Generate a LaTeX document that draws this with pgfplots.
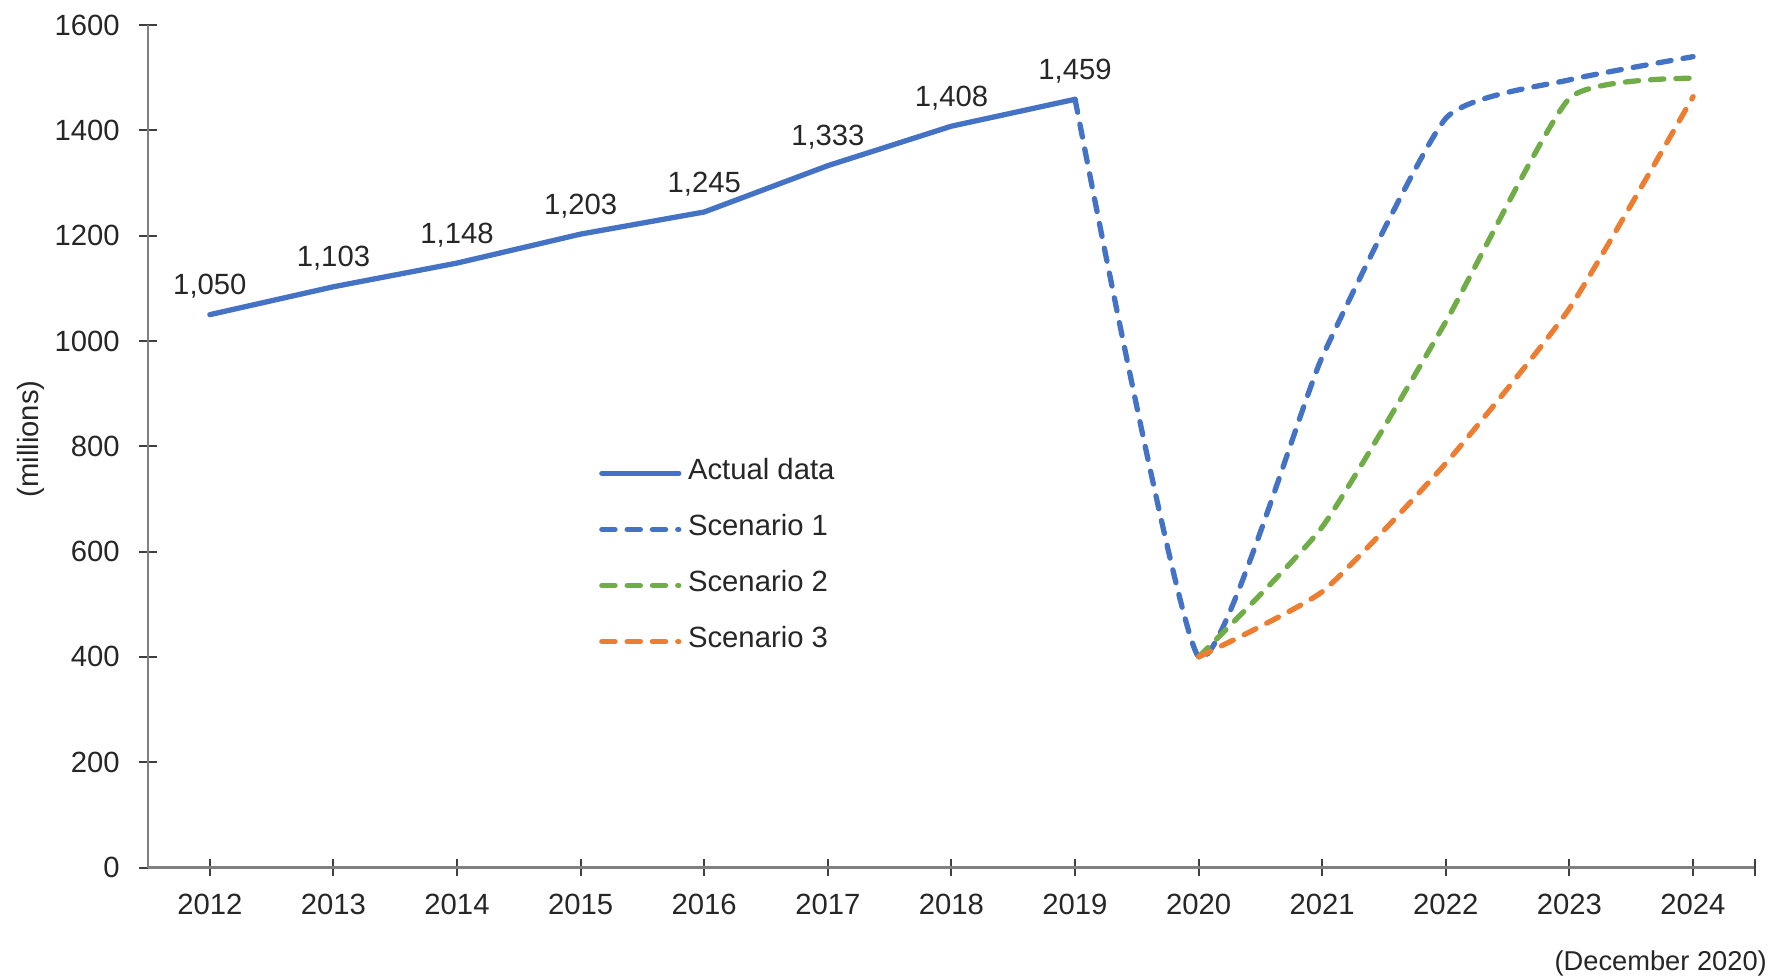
\documentclass[border=0pt]{standalone}
\usepackage{fontspec}
\setmainfont{Liberation Sans}
\usepackage{pgfplots}
\pgfplotsset{compat=1.18}
\definecolor{sBlue}{HTML}{4472C4}
\definecolor{sGreen}{HTML}{70AD47}
\definecolor{sOrange}{HTML}{ED7D31}
\definecolor{txt}{HTML}{262626}

\begin{document}
\begin{tikzpicture}
\begin{axis}[
    scale only axis,
    width=730.5pt, height=383pt,
    xmin=2011.5, xmax=2024.5,
    ymin=0, ymax=1600,
    axis lines=left,
    axis line style={-, draw=black!50, line width=1pt},
    xtick={2012,...,2024},
    extra x ticks={2024.5}, extra x tick labels={},
    ytick={0,200,...,1600},
    tick align=center,
    major tick length=8pt,
    tick style={draw=black!75, line width=0.9pt},
    font=\fontsize{13.3}{16}\selectfont,
    tick label style={font=\fontsize{13.3}{16}\selectfont, text=txt,
        /pgf/number format/assume math mode=true,
        /pgf/number format/1000 sep={}},
    xticklabel style={yshift=-4.5pt},
    yticklabel style={xshift=-5.4pt},
    ylabel={(millions)},
    ylabel style={at={(axis description cs:-0.0728,0.5087)}, anchor=center,
        font=\fontsize{13.3}{16}\selectfont, text=txt},
    clip=false,
    every axis plot/.append style={line width=2.4pt, line cap=round},
    legend cell align=left,
    legend style={draw=none, fill=none, at={(0.2805,0.368)}, anchor=west,
        inner sep=0pt, row sep=16pt,
        nodes={inner sep=0pt, text depth=0.2em, text height=0.75em, text=txt},
        font=\fontsize{13.3}{16}\selectfont,
        /tikz/every odd column/.append style={column sep=3pt}},
    legend image code/.code={\draw[#1, sharp plot] (0pt,0pt) -- (35pt,0pt);},
]
\addplot[sBlue, sharp plot,
    nodes near coords,
    every node near coord/.append style={anchor=base, yshift=9pt, inner sep=0pt,
        text=txt, font=\fontsize{13.3}{16}\selectfont,
        /pgf/number format/assume math mode=true,
        /pgf/number format/1000 sep={,}}]
    coordinates {(2012,1050) (2013,1103) (2014,1148) (2015,1203)
                 (2016,1245) (2017,1333) (2018,1408) (2019,1459)};
\addlegendentry{Actual data}
\addplot[sBlue, dash pattern=on 6pt off 5.5pt, smooth, tension=0.3]
    coordinates {(2019,1459) (2020,400) (2021,970) (2022,1423) (2023,1496) (2024,1540)};
\addlegendentry{Scenario 1}
\addplot[sGreen, dash pattern=on 6pt off 5.5pt, smooth, tension=0.3]
    coordinates {(2020,400) (2021,647) (2022,1037) (2023,1461) (2024,1499)};
\addlegendentry{Scenario 2}
\addplot[sOrange, dash pattern=on 6pt off 5.5pt, smooth, tension=0.3]
    coordinates {(2020,400) (2021,524) (2022,768) (2023,1062) (2024,1464)};
\addlegendentry{Scenario 3}
\node[anchor=east, inner sep=0pt, text=txt, font=\fontsize{12.4}{15}\selectfont]
    at (axis description cs:1.0077,-0.1144) {(December 2020)};
\coordinate (bl) at (rel axis cs:0,0);
\coordinate (tr) at (rel axis cs:1,1);
\end{axis}
\pgfresetboundingbox
\path[use as bounding box] ([xshift=-67.3pt,yshift=-51.1pt]bl) rectangle ([xshift=10.5pt,yshift=11.4pt]tr);
\end{tikzpicture}
\end{document}
